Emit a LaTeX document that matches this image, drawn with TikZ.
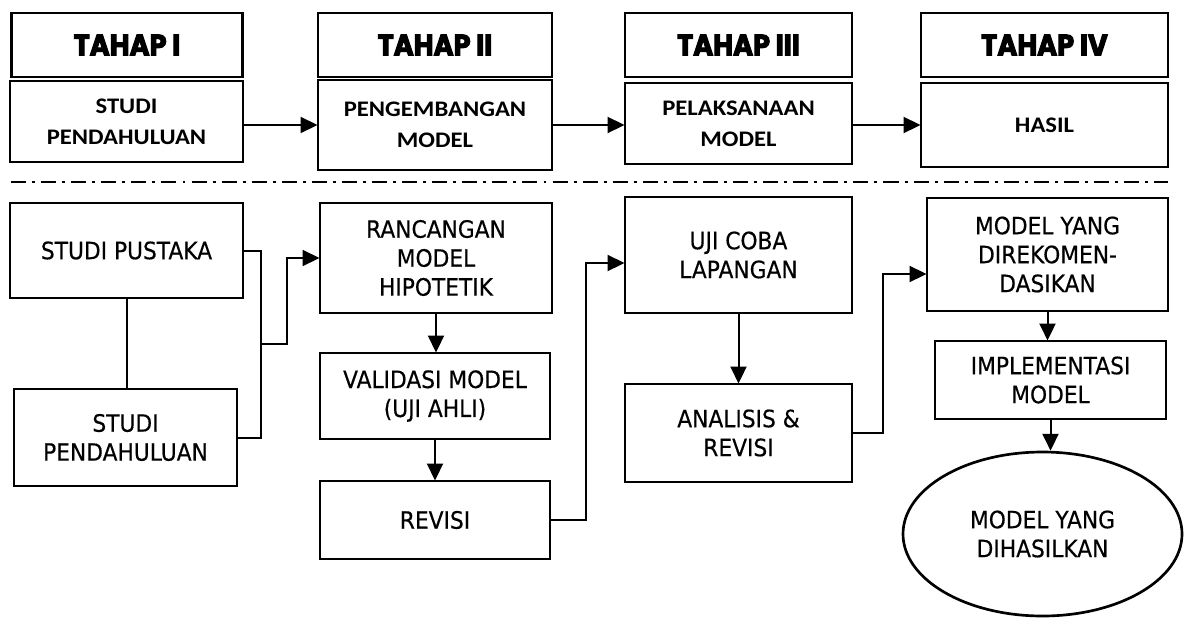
\documentclass[tikz,border=0pt]{standalone}
\usepackage{fontspec}
\usepackage{tikz}
\usetikzlibrary{arrows.meta,positioning,shapes.geometric}
\newfontfamily\rdboxfont[FakeStretch=0.91,FakeBold=0.4]{DejaVu Sans}
\newfontfamily\rdphasefont[FakeStretch=1.11]{Carlito}
\newfontfamily\rdheadfont[FakeStretch=0.92,BoldFeatures={FakeBold=3.5}]{Poppins}
\tikzset{
  rd diagram/.style={line join=miter},
  rd head/.style={draw=black, line width=1.6pt, align=center,
    inner sep=2pt, minimum height=1.6cm,
    font=\rdheadfont\bfseries\fontsize{21}{24}\selectfont},
  rd phase/.style={draw=black, line width=0.8pt, align=center,
    font=\rdphasefont\bfseries\fontsize{15.8}{22}\selectfont},
  rd box/.style={draw=black, line width=0.8pt, align=center,
    font=\rdboxfont\fontsize{17}{20.6}\selectfont},
  rd result/.style={rd box, ellipse, line width=1.9pt},
  rd arrow/.style={-{Triangle[length=12pt,width=11.4pt]}, line width=1.42pt},
  rd link/.style={line width=1.42pt},
  rd divider/.style={line width=1.4pt,
    dash pattern=on 10.7pt off 4.3pt on 2.1pt off 4.3pt}
}

\begin{document}
\begin{tikzpicture}[rd diagram]
\useasboundingbox (0,0) rectangle (29.6,-15.475);
% tahap
\node[rd head,minimum width=5.775cm] (h1) at (3.175,-1.125) {TAHAP I};
\node[rd head,minimum width=5.85cm] (h2) at (10.875,-1.125) {TAHAP II};
\node[rd head,minimum width=5.675cm] (h3) at (18.4625,-1.125) {TAHAP III};
\node[rd head,minimum width=6.175cm] (h4) at (26.1125,-1.125) {TAHAP IV};
\node[rd phase,minimum width=5.825cm,minimum height=2.025cm] (p1) at (3.1625,-3.0375) {STUDI\\PENDAHULUAN};
\node[rd phase,minimum width=5.85cm,minimum height=2.25cm] (p2) at (10.875,-3.125) {PENGEMBANGAN\\MODEL};
\node[rd phase,minimum width=5.675cm,minimum height=2.025cm] (p3) at (18.4625,-3.0875) {PELAKSANAAN\\MODEL};
\node[rd phase,minimum width=6.175cm,minimum height=2.1cm] (p4) at (26.1125,-3.125) {HASIL};
\draw[rd arrow] (p1.east |- p2) -- (p2.west);
\draw[rd arrow] (p2.east) -- (p2.east -| p3.west);
\draw[rd arrow] (p3.east |- p4) -- (p4.west);
\draw[rd divider] (0.275,-4.55) -- (29.2,-4.55);
% langkah
\node[rd box,minimum width=5.825cm,minimum height=2.375cm] (sp) at (3.1625,-6.2625) {STUDI PUSTAKA};
\node[rd box,minimum width=5.575cm,minimum height=2.425cm] (sd) at (3.1375,-10.9375) {STUDI\\PENDAHULUAN};
\node[rd box,minimum width=5.8cm,minimum height=2.75cm] (rm) at (10.9,-6.45) {RANCANGAN\\MODEL\\HIPOTETIK};
\node[rd box,minimum width=5.75cm,minimum height=2.15cm] (vm) at (10.875,-9.9) {VALIDASI MODEL\\(UJI AHLI)};
\node[rd box,minimum width=5.75cm,minimum height=1.95cm] (rv) at (10.875,-13) {REVISI};
\node[rd box,minimum width=5.675cm,minimum height=2.9cm] (uc) at (18.4625,-6.375) {UJI COBA\\LAPANGAN};
\node[rd box,minimum width=5.675cm,minimum height=2.45cm] (ar) at (18.4625,-10.825) {ANALISIS \&\\REVISI};
\node[rd box,minimum width=6.025cm,minimum height=2.825cm] (mr) at (26.1875,-6.3625) {MODEL YANG\\DIREKOMEN-\\DASIKAN};
\node[rd box,minimum width=5.775cm,minimum height=1.95cm] (im) at (26.2625,-9.5) {IMPLEMENTASI\\MODEL};
\node[rd result,minimum width=6.975cm,minimum height=4.1cm] (el) at (26.0625,-13.35) {MODEL YANG\\DIHASILKAN};
\coordinate (jn) at (6.525,-8.6);
\coordinate (jn2) at (7.175,-8.6);
\coordinate (rj) at (14.65,-10);
\coordinate (aj) at (22.075,-8.75);
\draw[rd link] (sp.south) -- (sp.south |- sd.north);
\draw[rd link] (sp.east) -| (jn) |- (sd.east);
\draw[rd arrow] (jn) -- (jn2) |- (rm.west);
\draw[rd arrow] (rm.south) -- (rm.south |- vm.north);
\draw[rd arrow] (vm.south) -- (vm.south |- rv.north);
\draw[rd arrow] (rv.east) -| (rj) |- ([yshift=-0.2cm]uc.west);
\draw[rd arrow] (uc.south) -- (uc.south |- ar.north);
\draw[rd arrow] (ar.east) -| (aj) |- ([yshift=-0.4875cm]mr.west);
\draw[rd arrow] (mr.south) -- (mr.south |- im.north);
\draw[rd arrow] (im.south) -- (im.south |- el.north);
\end{tikzpicture}
\end{document}
